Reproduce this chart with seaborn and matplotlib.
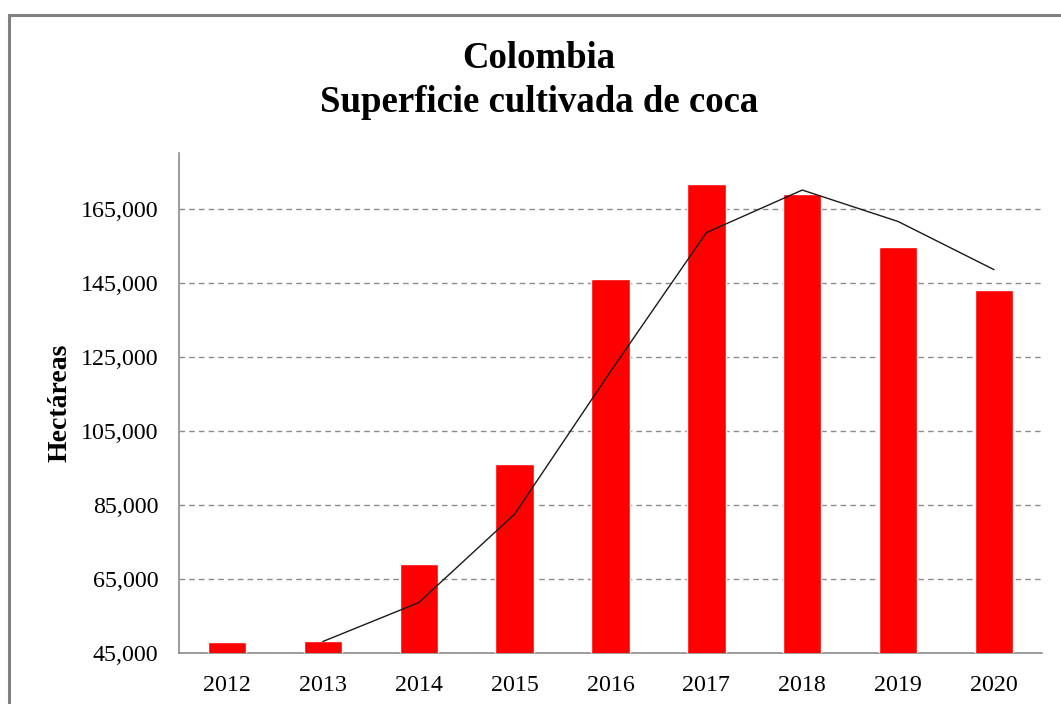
import numpy as np
import pandas as pd
import seaborn as sns
import matplotlib.pyplot as plt
from matplotlib.patches import Rectangle

# Data
anios = ['2012', '2013', '2014', '2015', '2016', '2017', '2018', '2019', '2020']
hectareas = [48000, 48200, 69000, 96000, 146000, 171500, 169000, 154500, 143000]

# Trend line (2-period moving average as drawn in the original), starts in 2013
anios_tendencia = ['2013', '2014', '2015', '2016', '2017', '2018', '2019', '2020']
tendencia = [48100, 58600, 82500, 121000, 158500, 170000, 161500, 148500]

ticks_y = [45000, 65000, 85000, 105000, 125000, 145000, 165000]

sns.set_theme(style='white')
plt.rcParams['font.family'] = ['Liberation Serif', 'DejaVu Serif']
plt.rcParams['text.color'] = 'black'
plt.rcParams['axes.labelcolor'] = 'black'

fig = plt.figure(figsize=(10.61, 7.04), dpi=100)
ax = fig.add_axes([179 / 1061, 1 - 653 / 704, (1042 - 179) / 1061, (653 - 153) / 704])

df = pd.DataFrame({'Año': anios, 'Hectáreas': hectareas})
sns.barplot(data=df, x='Año', y='Hectáreas', color='#ff0000', saturation=1,
            width=0.4, ax=ax, zorder=3)

pos = [anios.index(a) for a in anios_tendencia]
sns.lineplot(x=pos, y=tendencia, ax=ax, color='#1a1a1a', linewidth=1.0, zorder=4)

ax.set_xlim(-0.5, len(anios) - 0.5)
ax.set_ylim(45000, 180000)
ax.set_yticks(ticks_y)
ax.set_yticklabels([f'{v:,}' for v in ticks_y])
ax.yaxis.grid(True, linestyle=(0, (4, 3)), color='#8c8c8c', linewidth=1.0, zorder=0)
ax.xaxis.grid(False)
ax.tick_params(axis='both', length=0, labelsize=17.3, colors='black')
ax.tick_params(axis='x', pad=16)
ax.tick_params(axis='y', pad=15)

for s in ['top', 'right']:
    ax.spines[s].set_visible(False)
for s in ['left', 'bottom']:
    ax.spines[s].set_color('#8c8c8c')
    ax.spines[s].set_linewidth(1.2)

ax.set_xlabel('')
ax.set_ylabel('Hectáreas', fontsize=20, fontweight='bold', color='black')
ax.yaxis.set_label_coords(-0.123, 0.5)

fig.text(539 / 1061, 1 - 59 / 704, 'Colombia', ha='center', va='center',
         fontsize=26.5, fontweight='bold', color='black')
fig.text(539 / 1061, 1 - 102 / 704, 'Superficie cultivada de coca', ha='center',
         va='center', fontsize=26.5, fontweight='bold', color='black')

# Chart area border (cut off on the right and bottom as in the original)
fig.patches.append(Rectangle((9 / 1061, -0.2), 1.2, 0.2 + (1 - 15 / 704),
                             transform=fig.transFigure, fill=False,
                             edgecolor='#808080', linewidth=2.2))

fig.savefig('out.png', dpi=100)
